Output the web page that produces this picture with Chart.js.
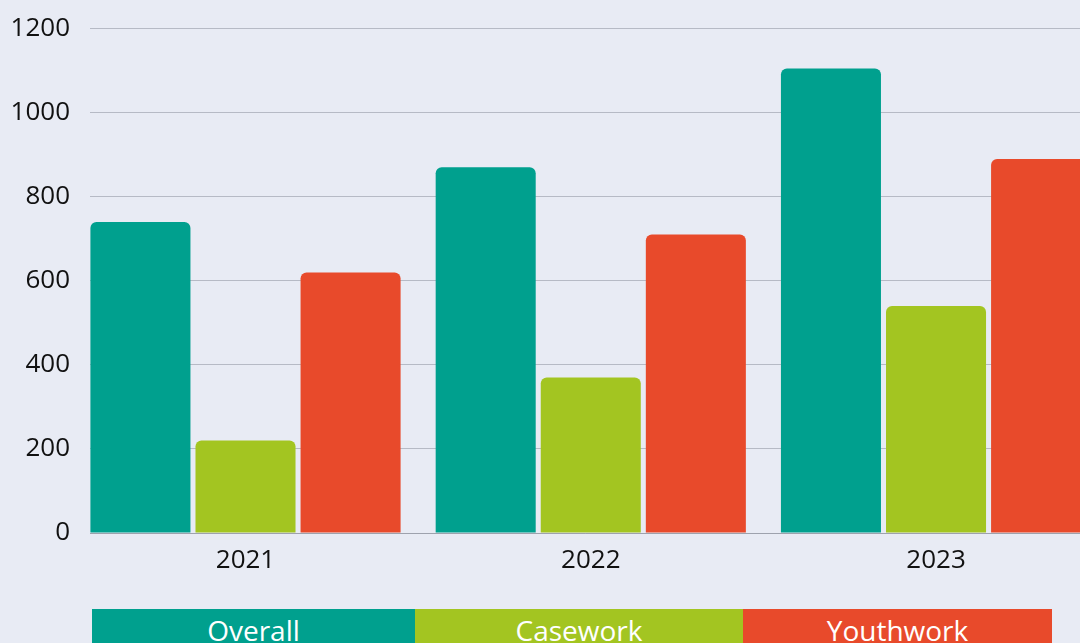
<!DOCTYPE html>
<html>
<head>
<meta charset="utf-8">
<script src="https://cdn.jsdelivr.net/npm/chart.js@4"></script>
<style>
  html, body { margin: 0; padding: 0; background: #e8ebf4; overflow: hidden; }
  #wrap { position: relative; width: 1080px; height: 643px; overflow: hidden; }
  #box { position: absolute; left: 0; top: -7px; width: 1080px; height: 607px; }
  #legend { position: absolute; left: 92px; top: 609px; display: flex; height: 42px; }
  #legend div { color: #fff; font: 28px "Open Sans", sans-serif; text-align: center; line-height: 42px; }
</style>
</head>
<body>
<div id="wrap">
  <div id="box"><canvas id="chart"></canvas></div>
  <div id="legend"></div>
</div>
<script>
// data
const years = ['2021', '2022', '2023'];
const overall = [740, 870, 1105];
const casework = [220, 370, 540];
const youthwork = [620, 710, 890];
const seriesNames = ['Overall', 'Casework', 'Youthwork'];
const seriesColors = ['#00a08e', '#a3c521', '#e84a2b'];
const legendWidths = [323, 328, 309];
const yTicks = [0, 200, 400, 600, 800, 1000, 1200];

const toPts = arr => arr.map((v, i) => ({ x: i, y: v }));
const font = { family: 'Open Sans', size: 26 };

new Chart(document.getElementById('chart'), {
  type: 'bar',
  data: {
    datasets: [overall, casework, youthwork].map((arr, i) => ({
      label: seriesNames[i],
      data: toPts(arr),
      backgroundColor: seriesColors[i],
      borderRadius: { topLeft: 6, topRight: 6 },
      borderSkipped: 'bottom',
      categoryPercentage: 0.913,
      barPercentage: 0.952
    }))
  },
  options: {
    responsive: true,
    maintainAspectRatio: false,
    animation: false,
    layout: { padding: { top: 21, right: 0, left: 0, bottom: 0 } },
    plugins: { legend: { display: false }, tooltip: { enabled: false } },
    scales: {
      x: {
        type: 'linear',
        offset: false,
        min: -0.4504,
        max: 2.417,
        afterBuildTicks: s => { s.ticks = years.map((y, i) => ({ value: i })); },
        grid: { display: false },
        border: { display: true, color: '#9ea2ad', width: 1 },
        ticks: {
          autoSkip: false,
          maxRotation: 0,
          color: '#111',
          font: font,
          padding: 4,
          callback: v => years[v] ?? ''
        },
        afterFit: s => { s.height = 67; }
      },
      y: {
        min: 0,
        max: 1200,
        afterBuildTicks: s => { s.ticks = yTicks.map(v => ({ value: v })); },
        grid: { color: '#b6bac5', lineWidth: 1, drawTicks: false },
        border: { display: false },
        ticks: { color: '#111', font: font, padding: 20, callback: v => String(v) },
        afterFit: s => { s.width = 90; }
      }
    }
  }
});

// legend boxes
const legend = document.getElementById('legend');
seriesNames.forEach((name, i) => {
  const d = document.createElement('div');
  d.textContent = name;
  d.style.background = seriesColors[i];
  d.style.width = legendWidths[i] + 'px';
  legend.appendChild(d);
});
</script>
</body>
</html>
